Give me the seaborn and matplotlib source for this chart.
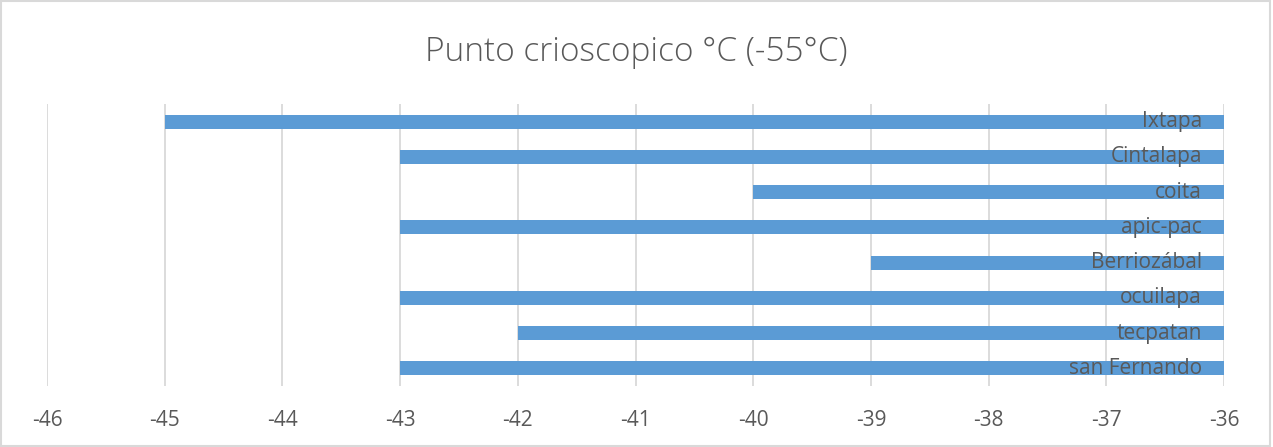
import matplotlib
matplotlib.use("Agg")
import matplotlib.pyplot as plt
import matplotlib.transforms as mtransforms
import seaborn as sns
import pandas as pd

# Freezing point per sample location (°C)
localidades = ["Ixtapa", "Cintalapa", "coita", "apic-pac", "Berriozábal",
               "ocuilapa", "tecpatan", "san Fernando"]
punto_crioscopico = [-45, -43, -40, -43, -39, -43, -42, -43]
x_ticks = list(range(-46, -35))

df = pd.DataFrame({"localidad": localidades, "valor": punto_crioscopico})

sns.set_theme(style="white")
plt.rcParams["font.family"] = ["Open Sans", "DejaVu Sans"]

text_color = "#595959"
grid_color = "#D9D9D9"
bar_color = "#5B9BD5"

fig = plt.figure(figsize=(12.73, 4.47), dpi=100)
fig.patch.set_facecolor("white")
ax = fig.add_axes([47 / 1273, 1 - 386 / 447, (1224 - 47) / 1273, (386 - 104) / 447])

sns.barplot(data=df, x="valor", y="localidad", orient="h", color=bar_color,
            width=0.4, saturation=1, linewidth=0, ax=ax, zorder=2)

ax.set_xlim(x_ticks[0], x_ticks[-1])
ax.set_xticks(x_ticks)
ax.set_xticklabels([str(t) for t in x_ticks], fontsize=15, color=text_color)
ax.tick_params(axis="x", length=0, pad=17)
ax.set_yticks([])
ax.set_xlabel("")
ax.set_ylabel("")
for s in ax.spines.values():
    s.set_visible(False)
ax.grid(axis="x", color=grid_color, linewidth=1.3, zorder=0)
ax.set_axisbelow(True)

# Category names drawn inside the bars, right-aligned near the -36 end
trans = mtransforms.blended_transform_factory(ax.transAxes, ax.transData)
for i, name in enumerate(localidades):
    ax.text(1 - 22 / 1177, i, name, transform=trans, ha="right", va="center",
            fontsize=15, color=text_color, zorder=3)

fig.text(0.5, 1 - 52 / 447, "Punto crioscopico °C (-55°C)", ha="center",
         va="center", fontsize=24, color=text_color, fontweight="light")

# Light chart border
fig.add_artist(plt.Rectangle((0.001, 0.002), 0.997, 0.996, transform=fig.transFigure,
                             fill=False, edgecolor=grid_color, linewidth=1.5))

fig.savefig("out.png", dpi=100, facecolor="white")
